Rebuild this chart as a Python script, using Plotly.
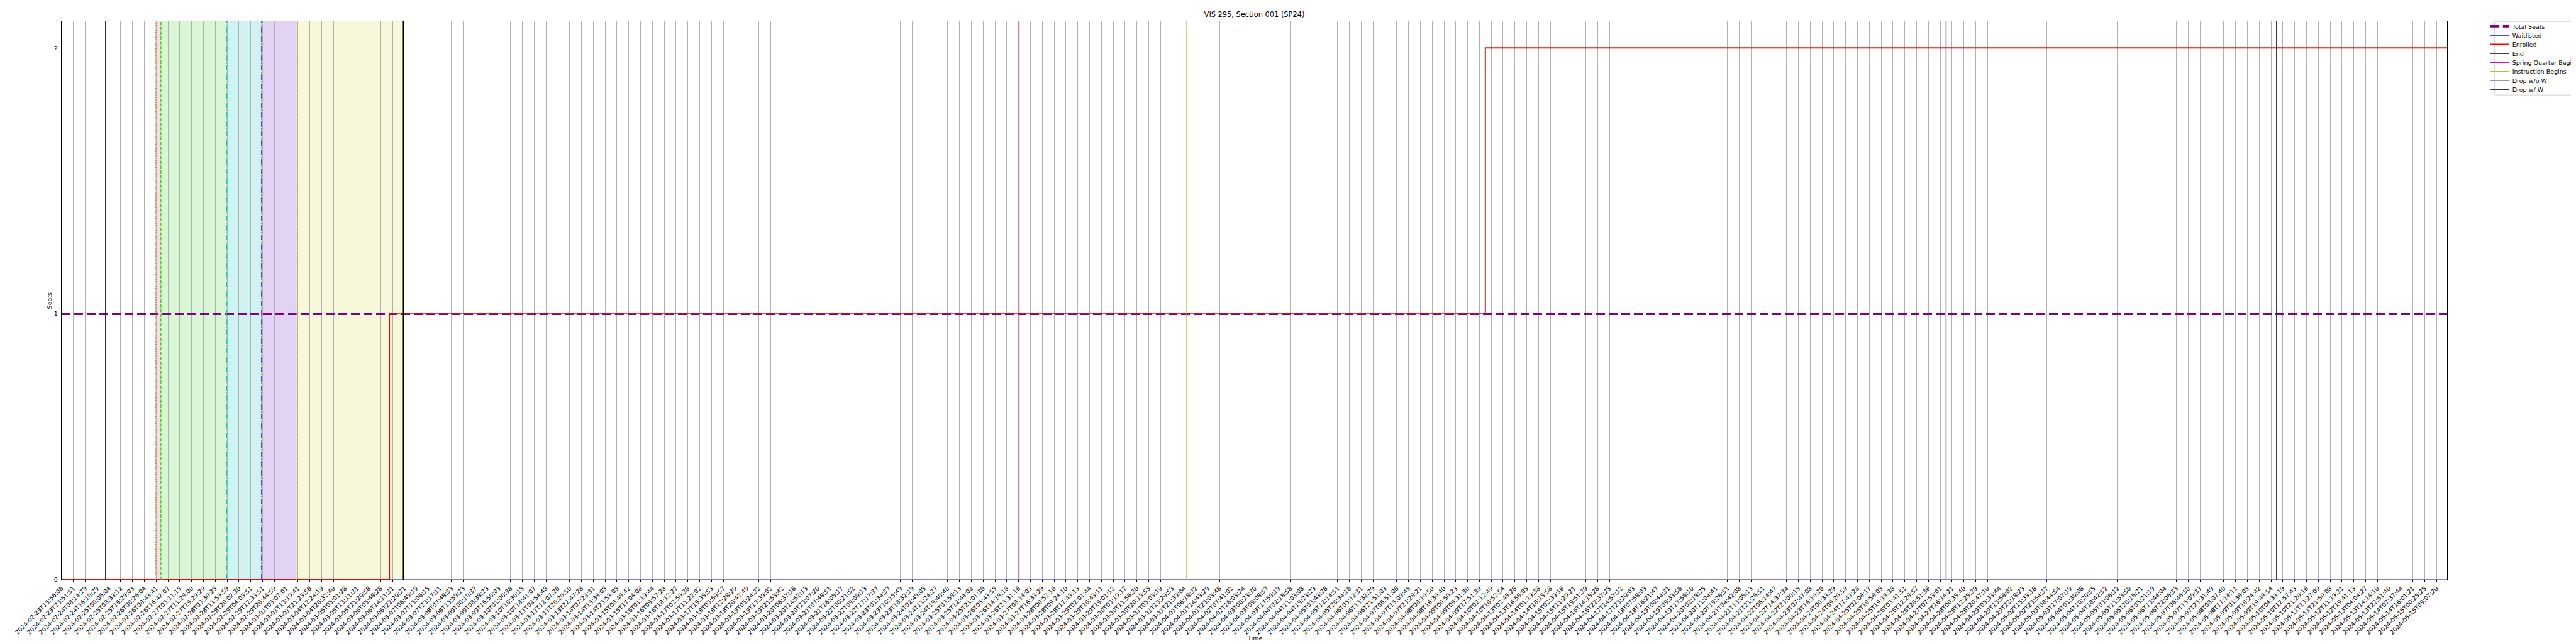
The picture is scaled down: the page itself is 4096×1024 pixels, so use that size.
import plotly.graph_objects as go

# ---------------- data ----------------
tick_labels = [
    "2024-02-23T15:56:06", "2024-02-23T23:51:51", "2024-02-24T08:14:29", "2024-02-24T16:10:29",
    "2024-02-25T00:06:04", "2024-02-25T08:33:12", "2024-02-25T16:29:03", "2024-02-26T00:26:04",
    "2024-02-26T08:43:41", "2024-02-26T16:42:07", "2024-02-27T03:11:15", "2024-02-27T11:28:00",
    "2024-02-27T19:29:29", "2024-02-28T03:30:25", "2024-02-28T11:59:59", "2024-02-28T20:02:30",
    "2024-02-29T04:03:51", "2024-02-29T12:33:51", "2024-02-29T20:44:59", "2024-03-01T05:07:01",
    "2024-03-01T13:19:41", "2024-03-01T21:23:56", "2024-03-04T12:24:19", "2024-03-04T20:32:40",
    "2024-03-05T05:01:28", "2024-03-05T13:11:31", "2024-03-05T21:20:58", "2024-03-06T05:48:28",
    "2024-03-06T14:11:31", "2024-03-06T22:20:21", "2024-03-07T06:49:19", "2024-03-07T15:06:15",
    "2024-03-07T23:17:11", "2024-03-08T07:48:33", "2024-03-08T15:59:23", "2024-03-09T00:10:37",
    "2024-03-09T08:38:23", "2024-03-09T16:50:03", "2024-03-10T01:00:38", "2024-03-10T10:30:15",
    "2024-03-10T18:41:07", "2024-03-11T02:54:48", "2024-03-11T12:07:26", "2024-03-11T20:20:50",
    "2024-03-13T22:47:28", "2024-03-14T07:23:31", "2024-03-14T15:38:05", "2024-03-14T23:53:05",
    "2024-03-15T08:48:42", "2024-03-15T17:04:08", "2024-03-16T01:19:44", "2024-03-16T09:57:28",
    "2024-03-16T18:12:27", "2024-03-17T02:50:38", "2024-03-17T11:22:02", "2024-03-17T19:35:53",
    "2024-03-18T03:50:57", "2024-03-18T12:28:29", "2024-03-18T20:42:49", "2024-03-19T05:24:32",
    "2024-03-19T13:39:02", "2024-03-19T21:53:42", "2024-03-20T06:37:16", "2024-03-20T14:52:13",
    "2024-03-20T23:07:20", "2024-03-21T07:48:51", "2024-03-21T16:05:17", "2024-03-22T00:21:52",
    "2024-03-22T09:00:13", "2024-03-22T17:17:37", "2024-03-23T01:34:37", "2024-03-23T10:15:49",
    "2024-03-23T18:32:19", "2024-03-24T02:49:05", "2024-03-24T11:24:27", "2024-03-24T19:40:40",
    "2024-03-25T03:58:13", "2024-03-25T12:44:02", "2024-03-25T21:01:36", "2024-03-26T05:43:55",
    "2024-03-26T14:18:18", "2024-03-26T23:31:16", "2024-03-27T08:14:03", "2024-03-27T16:33:29",
    "2024-03-28T00:52:16", "2024-03-28T09:24:10", "2024-03-28T17:43:13", "2024-03-29T02:01:44",
    "2024-03-29T10:43:11", "2024-03-29T19:01:12", "2024-03-30T03:19:17", "2024-03-30T11:56:30",
    "2024-03-30T20:13:55", "2024-03-31T05:03:19", "2024-03-31T13:20:53", "2024-03-31T21:39:04",
    "2024-04-01T06:18:32", "2024-04-01T14:43:29", "2024-04-01T23:03:48", "2024-04-02T07:41:02",
    "2024-04-02T16:03:24", "2024-04-03T00:23:30", "2024-04-03T09:08:57", "2024-04-03T17:59:19",
    "2024-04-04T02:18:58", "2024-04-04T11:03:08", "2024-04-04T19:23:23", "2024-04-05T03:43:28",
    "2024-04-05T12:14:51", "2024-04-05T20:34:16", "2024-04-06T05:12:31", "2024-04-06T13:32:29",
    "2024-04-06T21:51:03", "2024-04-07T06:51:06", "2024-04-07T15:09:45", "2024-04-07T23:28:21",
    "2024-04-08T08:10:50", "2024-04-08T16:30:40", "2024-04-09T00:50:23", "2024-04-09T09:31:30",
    "2024-04-09T17:51:39", "2024-04-10T02:12:49", "2024-04-10T10:52:54", "2024-04-13T02:45:28",
    "2024-04-13T16:58:05", "2024-04-14T01:19:38", "2024-04-14T18:15:58", "2024-04-15T02:39:16",
    "2024-04-15T11:29:21", "2024-04-15T19:51:39", "2024-04-16T14:15:28", "2024-04-16T22:37:25",
    "2024-04-17T14:57:12", "2024-04-17T23:20:03", "2024-04-18T07:58:03", "2024-04-18T16:21:47",
    "2024-04-19T00:44:31", "2024-04-19T09:33:56", "2024-04-19T17:56:10", "2024-04-20T02:18:25",
    "2024-04-20T11:04:41", "2024-04-20T19:26:51", "2024-04-21T04:42:08", "2024-04-21T13:05:13",
    "2024-04-21T21:26:51", "2024-04-22T06:14:47", "2024-04-22T14:37:34", "2024-04-22T23:00:15",
    "2024-04-23T07:47:08", "2024-04-23T16:10:26", "2024-04-24T00:33:29", "2024-04-24T09:20:59",
    "2024-04-24T17:43:28", "2024-04-25T02:06:17", "2024-04-25T10:56:05", "2024-04-25T19:18:38",
    "2024-04-26T03:41:51", "2024-04-26T12:28:57", "2024-04-26T20:51:36", "2024-04-27T07:53:01",
    "2024-04-27T16:14:21", "2024-04-28T00:35:40", "2024-04-28T12:25:39", "2024-04-28T20:47:10",
    "2024-04-29T05:33:44", "2024-04-29T13:56:02", "2024-04-29T22:18:23", "2024-05-02T15:33:18",
    "2024-05-02T23:54:37", "2024-05-03T08:44:54", "2024-05-03T17:07:19", "2024-05-04T01:30:08",
    "2024-05-04T10:20:55", "2024-05-04T18:42:52", "2024-05-05T03:06:12", "2024-05-05T11:53:50",
    "2024-05-05T20:16:21", "2024-05-06T05:21:19", "2024-05-06T13:44:04", "2024-05-06T22:06:33",
    "2024-05-07T06:46:50", "2024-05-07T15:09:37", "2024-05-07T23:31:49", "2024-05-08T08:07:40",
    "2024-05-08T17:14:11", "2024-05-09T01:36:05", "2024-05-09T10:24:42", "2024-05-09T19:48:54",
    "2024-05-10T04:33:19", "2024-05-10T12:57:43", "2024-05-10T21:20:16", "2024-05-11T13:27:09",
    "2024-05-11T21:50:08", "2024-05-12T11:19:31", "2024-05-12T19:41:13", "2024-05-13T04:04:27",
    "2024-05-13T14:14:10", "2024-05-13T22:51:40", "2024-05-14T07:37:44", "2024-05-14T16:01:21",
    "2024-05-15T00:25:25", "2024-05-15T09:07:20",
]
tick_positions = list(range(len(tick_labels)))

# observation positions (in tick-index units) and series values
x_start = 0.0
x_end = 201.9
total_seats_x = [x_start, x_end]
total_seats_y = [1, 1]
waitlisted_x = [x_start, x_end]
waitlisted_y = [0, 0]
enrolled_x = [x_start, 27.74, 120.5, x_end]
enrolled_y = [0, 1, 2, 2]

y_max = 2.1
y_ticks = [0, 1, 2]

# labelled event lines
event_names = ["End", "Spring Quarter Begins", "Instruction Begins", "Drop w/o W", "Drop w/ W"]
event_pos = [28.92, 81.04, 95.23, 159.5, 187.46]
event_colors = ["#000000", "#e0109f", "#9acd32", "#2b2b86", "#2d3b55"]

# unlabelled event lines
extra_pos = [3.72, 7.95, 8.40, 13.97, 16.91, 19.85]
extra_colors = ["#000000", "#d2691e", "#32cd32", "#00ced1", "#8a2be2", "#e6e62a"]
extra_dash = ["solid", "1.4px,2.3px", "5.3px,2.3px", "9px,2.3px,1.4px,2.3px",
              "9px,2.3px,1.4px,2.3px", "5.3px,2.3px"]

# shaded phases
phase_start = [7.95, 8.40, 13.97, 16.91, 19.85]
phase_end = [8.40, 13.97, 16.91, 19.85, 28.92]
phase_colors = ["#f6e1d2", "#d8f5d4", "#cff2f3", "#e2d3f5", "#f7f8da"]

# ---------------- figure ----------------
FONT = "DejaVu Sans"
W, H = 4096, 1024
L, R, T, B = 89.9, 3883.2, 25.5, 914.3
PW, PH = R - L, B - T


def px_to_paper_x(px):
    return (px - L) / PW


def px_to_paper_y(py):
    return (B - py) / PH


fig = go.Figure()

for x0, x1, c in zip(phase_start, phase_end, phase_colors):
    fig.add_vrect(x0=x0, x1=x1, fillcolor=c, opacity=1, line_width=0, layer="below")

legend_rows = []  # (legend id) in order of appearance

def next_legend():
    lid = "legend" if not legend_rows else "legend%d" % (len(legend_rows) + 1)
    legend_rows.append(lid)
    return lid

fig.add_trace(go.Scatter(x=total_seats_x, y=total_seats_y, mode="lines", name="Total Seats",
                         legend=next_legend(),
                         line=dict(color="#800080", width=3.8, dash="14px,6px")))
fig.add_trace(go.Scatter(x=waitlisted_x, y=waitlisted_y, mode="lines", name="Waitlisted",
                         legend=next_legend(),
                         line=dict(color="#0000ff", width=1.0, shape="hv")))
fig.add_trace(go.Scatter(x=enrolled_x, y=enrolled_y, mode="lines", name="Enrolled",
                         legend=next_legend(),
                         line=dict(color="#ff0000", width=1.9, shape="hv")))

for p, c, d in zip(extra_pos, extra_colors, extra_dash):
    fig.add_trace(go.Scatter(x=[p, p], y=[0, y_max], mode="lines", showlegend=False,
                             line=dict(color=c, width=1.4, dash=d), hoverinfo="skip"))

for n, p, c in zip(event_names, event_pos, event_colors):
    w = 1.7 if n == "End" else 1.4
    fig.add_trace(go.Scatter(x=[p, p], y=[0, y_max], mode="lines", name=n,
                             legend=next_legend(), line=dict(color=c, width=w)))

# legend layout: one row per legend, matching matplotlib spacing
row_top = 33.4
row_step = 14.35
legend_left = 3947.0
layout_legends = {}
for i, lid in enumerate(legend_rows):
    layout_legends[lid] = dict(
        x=px_to_paper_x(legend_left), xanchor="left",
        y=px_to_paper_y(row_top + i * row_step), yanchor="middle",
        bgcolor="rgba(0,0,0,0)", borderwidth=0, itemwidth=30,
        font=dict(family=FONT, size=9.5, color="black"),
    )

fig.update_layout(
    width=W, height=H,
    margin=dict(l=L, r=W - R, t=T, b=H - B, autoexpand=False),
    paper_bgcolor="white", plot_bgcolor="white",
    font=dict(family=FONT, size=9.5, color="black"),
    title=dict(text="VIS 295, Section 001 (SP24)", x=0.5, xref="paper", xanchor="center",
               y=1 - 15.5 / H, yref="container", yanchor="middle",
               font=dict(family=FONT, size=11.4, color="black")),
    showlegend=True,
    **layout_legends,
)

# legend frame (rounded box, cut at the right edge like the reference)
bx0, by0, bx1, by1, r = 3958.5, 25.7, 4102.0, 142.7, 2.7
fx0, fx1 = px_to_paper_x(bx0), px_to_paper_x(bx1)
fy0, fy1 = px_to_paper_y(by1), px_to_paper_y(by0)
rx, ry = r / PW, r / PH
path = (f"M {fx0 + rx},{fy1} L {fx1 - rx},{fy1} Q {fx1},{fy1} {fx1},{fy1 - ry} "
        f"L {fx1},{fy0 + ry} Q {fx1},{fy0} {fx1 - rx},{fy0} L {fx0 + rx},{fy0} "
        f"Q {fx0},{fy0} {fx0},{fy0 + ry} L {fx0},{fy1 - ry} Q {fx0},{fy1} {fx0 + rx},{fy1} Z")
fig.add_shape(type="path", path=path, xref="paper", yref="paper",
              line=dict(color="#d0d0d0", width=1), fillcolor="rgba(255,255,255,0.8)",
              layer="above")

fig.update_xaxes(
    range=[x_start, x_end], tickmode="array", tickvals=tick_positions, ticktext=tick_labels,
    tickangle=-45, ticks="outside", ticklen=3.3, tickwidth=0.76, tickcolor="black",
    showgrid=True, gridcolor="#b0b0b0", gridwidth=0.76, zeroline=False,
    showline=True, linecolor="black", linewidth=0.76, mirror=True,
    tickfont=dict(family=FONT, size=9.5, color="black"), automargin=False,
)
fig.update_yaxes(
    range=[0, y_max], tickmode="array", tickvals=y_ticks, ticktext=[str(v) for v in y_ticks],
    ticks="outside", ticklen=3.3, tickwidth=0.76, tickcolor="black",
    showgrid=True, gridcolor="#b0b0b0", gridwidth=0.76, zeroline=False,
    showline=True, linecolor="black", linewidth=0.76, mirror=True,
    tickfont=dict(family=FONT, size=9.5, color="black"), automargin=False,
)

fig.add_annotation(text="Time", xref="paper", yref="paper", x=0.5, y=-(1007 - B) / PH,
                   xanchor="center", yanchor="middle", showarrow=False,
                   font=dict(family=FONT, size=9.5, color="black"))
fig.add_annotation(text="Seats", xref="paper", yref="paper", x=px_to_paper_x(70.3), y=0.5,
                   xanchor="center", yanchor="middle", textangle=-90, showarrow=False,
                   font=dict(family=FONT, size=9.5, color="black"))

fig.write_html("out.html")
